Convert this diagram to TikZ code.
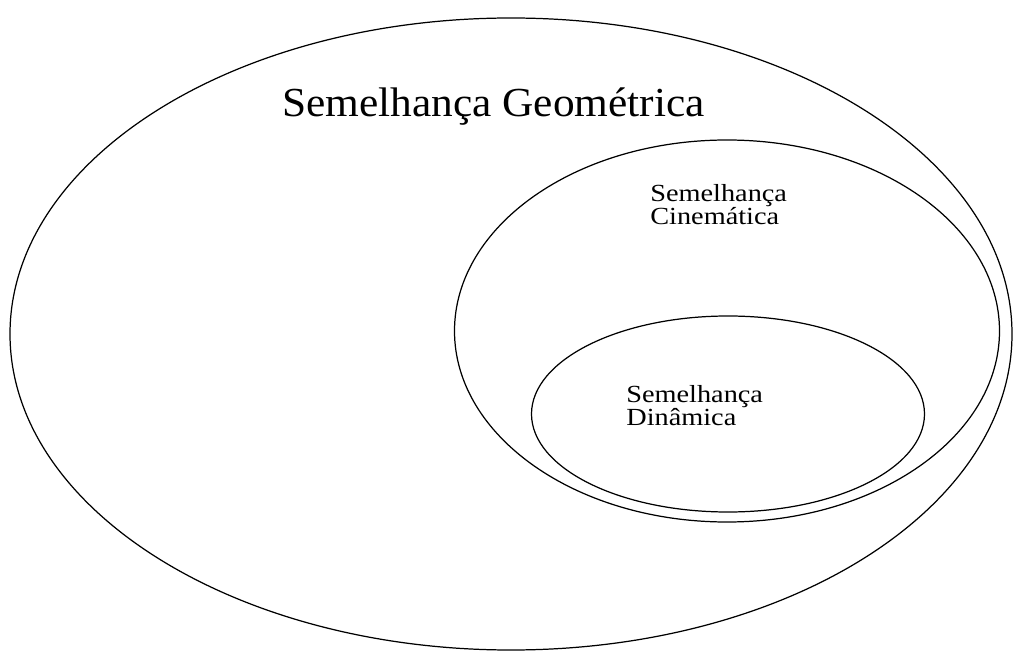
\documentclass[tikz,border=0pt]{standalone}
\usepackage{graphicx}
\usepackage{fontspec}
\setmainfont{Liberation Serif}
\usetikzlibrary{shapes.geometric}

\tikzset{
  setring/.style={ellipse, draw=black, line width=0.7pt, inner sep=0pt},
  biglabel/.style={font=\fontsize{23.5}{26}\selectfont, anchor=base west, inner sep=0pt},
  smalllabel/.style={font=\fontsize{14}{14}\selectfont, anchor=base west, inner sep=0pt}
}
\newcommand{\widetext}[2]{\scalebox{#1}[1]{#2}}

\begin{document}
\begin{tikzpicture}[x=0.02cm, y=-0.02cm]

  %% page frame
  \useasboundingbox (0,0) rectangle (1015,655);

  %% nested sets
  \node[setring, minimum width=1002*0.02cm, minimum height=632*0.02cm] (geo) at (511,334) {};
  \node[setring, minimum width=545*0.02cm, minimum height=382*0.02cm] (cin) at (727,331) {};
  \node[setring, minimum width=393*0.02cm, minimum height=196*0.02cm] (din) at (728,414) {};

  %% labels
  \node[biglabel] (geolabel) at (282,117) {\widetext{1.05}{Semelhança Geométrica}};
  \node[smalllabel] (cinlabel) at (650,202) {\widetext{1.15}{Semelhança}};
  \node[smalllabel] (cinlabelb) at (650,225) {\widetext{1.15}{Cinemática}};
  \node[smalllabel] (dinlabel) at (626,402) {\widetext{1.15}{Semelhança}};
  \node[smalllabel] (dinlabelb) at (626,425) {\widetext{1.15}{Dinâmica}};

\end{tikzpicture}
\end{document}
